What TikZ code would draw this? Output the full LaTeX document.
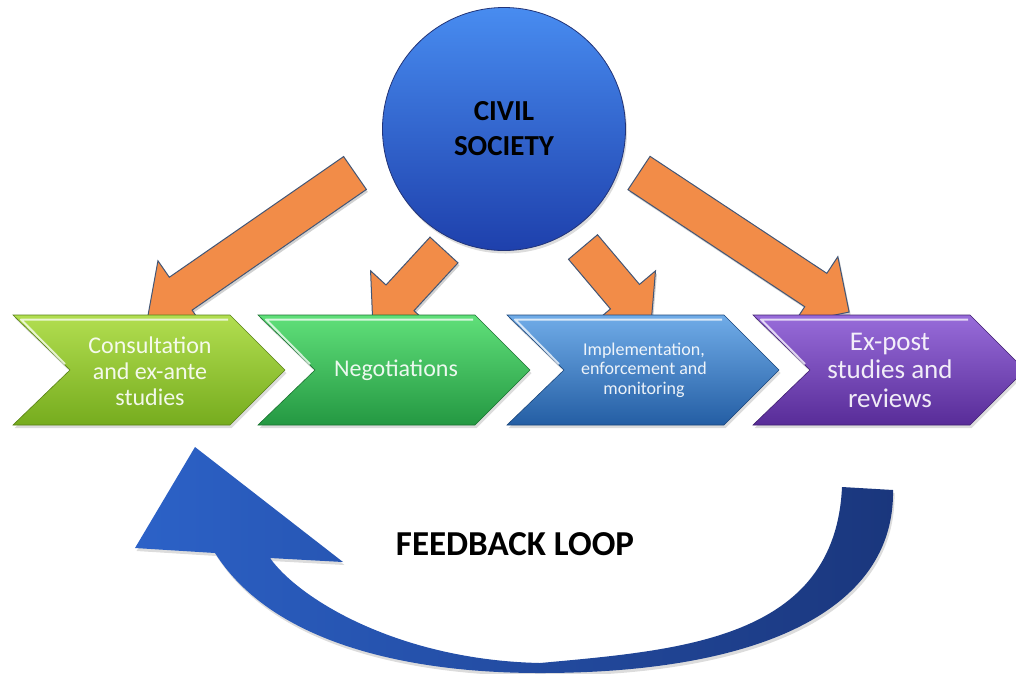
\documentclass[tikz,border=0pt]{standalone}
\usepackage{fontspec}
\setmainfont{Carlito}
\usetikzlibrary{shadows}

\definecolor{limetop}{RGB}{178,222,80}
\definecolor{limebot}{RGB}{118,172,30}
\definecolor{greentop}{RGB}{96,224,122}
\definecolor{greenbot}{RGB}{36,152,66}
\definecolor{bluetop}{RGB}{112,172,232}
\definecolor{bluebot}{RGB}{36,94,164}
\definecolor{purpletop}{RGB}{152,108,218}
\definecolor{purplebot}{RGB}{88,44,152}
\definecolor{civtop}{RGB}{72,140,240}
\definecolor{civbot}{RGB}{30,64,172}
\definecolor{civedge}{RGB}{34,52,120}
\definecolor{orangefill}{RGB}{242,140,72}
\definecolor{orangeedge}{RGB}{66,86,118}
\definecolor{loopleft}{RGB}{44,98,200}
\definecolor{loopmid}{RGB}{66,130,228}
\definecolor{loopright}{RGB}{26,54,124}

\tikzset{
  softshadow/.style={drop shadow={opacity=0.28, shadow xshift=1.5pt, shadow yshift=-3pt}},
  orangearrow/.style={fill=orangefill, draw=orangeedge, line width=1pt, line join=miter},
  stagetext/.style={text=white, text opacity=0.9, align=center, inner sep=0pt},
  civilcircle/.style={circle, minimum size=243pt, inner sep=0pt, draw=civedge,
    line width=0.8pt, top color=civtop, bottom color=civbot, softshadow,
    align=center, text=black, font=\fontsize{29}{35}\selectfont\bfseries},
}

% chevron: #1 left x, #2 top colour, #3 bottom colour
\newcommand{\stagechevron}[3]{%
  \path[draw=#3!75!black, line width=0.6pt, top color=#2, bottom color=#3, softshadow]
    (#1,-315) -- ({#1+217},-315) -- ({#1+272},-370) -- ({#1+217},-425)
    -- (#1,-425) -- ({#1+57},-370) -- cycle;
  \draw[white, opacity=0.75, line width=2pt, line join=round]
    ({#1+52},-364) -- ({#1+8},-319.5) -- ({#1+215},-319.5);
}

% block arrow: #1,#2 tail centre, #3 direction, #4 length to tip, #5 shaft half width
\newcommand{\blockarrow}[5]{%
  \begin{scope}[shift={(#1+1.5,#2-2.5)}, rotate=#3]
    \fill[black, opacity=0.18] (0,#5) -- ({#4-40},#5) -- ({#4-40},40) -- (#4,0)
      -- ({#4-40},-40) -- ({#4-40},-#5) -- (0,-#5) -- cycle;
  \end{scope}
  \begin{scope}[shift={(#1,#2)}, rotate=#3]
    \path[orangearrow] (0,#5) -- ({#4-40},#5) -- ({#4-40},40) -- (#4,0)
      -- ({#4-40},-40) -- ({#4-40},-#5) -- (0,-#5) -- cycle;
  \end{scope}
}

\begin{document}
\begin{tikzpicture}[x=1pt, y=1pt]
  \useasboundingbox (0,0) rectangle (1016,-673);
  \clip (0,0) rectangle (1016,-673);

  % central actor
  \node[civilcircle] (civil) at (504,-129) {CIVIL\\SOCIETY};

  % influence arrows towards the stages
  \blockarrow{355}{-173}{214.7}{252}{20}
  \blockarrow{639}{-173}{-33.5}{252}{20}
  \blockarrow{444}{-250}{227.4}{105}{19}
  \blockarrow{583}{-247}{-49.8}{105}{19}

  % policy stages
  \stagechevron{13}{limetop}{limebot}
  \stagechevron{258}{greentop}{greenbot}
  \stagechevron{507}{bluetop}{bluebot}
  \stagechevron{753}{purpletop}{purplebot}

  \node[stagetext, font=\fontsize{24}{26}\selectfont] (consult) at (150,-371)
    {Consultation\\and ex-ante\\studies};
  \node[stagetext, font=\fontsize{24}{26}\selectfont] (negot) at (396,-370)
    {Negotiations};
  \node[stagetext, font=\fontsize{18}{19.5}\selectfont] (implem) at (644,-370)
    {Implementation,\\enforcement and\\monitoring};
  \node[stagetext, font=\fontsize{27}{28.5}\selectfont] (expost) at (890,-370)
    {Ex-post\\studies and\\reviews};

  % curved feedback arrow
  \path[left color=loopleft, middle color=loopmid, right color=loopright, softshadow]
    (195,-447) -- (343,-562) -- (270,-558)
    .. controls (300,-600) and (400,-660) .. (540,-663)
    .. controls (680,-650) and (835,-640) .. (842,-487)
    -- (893,-490)
    .. controls (895,-610) and (760,-673) .. (540,-673)
    .. controls (400,-673) and (270,-640) .. (215,-553)
    -- (135,-548) -- cycle;

  \node[font=\fontsize{35}{40}\selectfont\bfseries, inner sep=0pt] (loop) at (515,-544)
    {FEEDBACK LOOP};
\end{tikzpicture}
\end{document}
